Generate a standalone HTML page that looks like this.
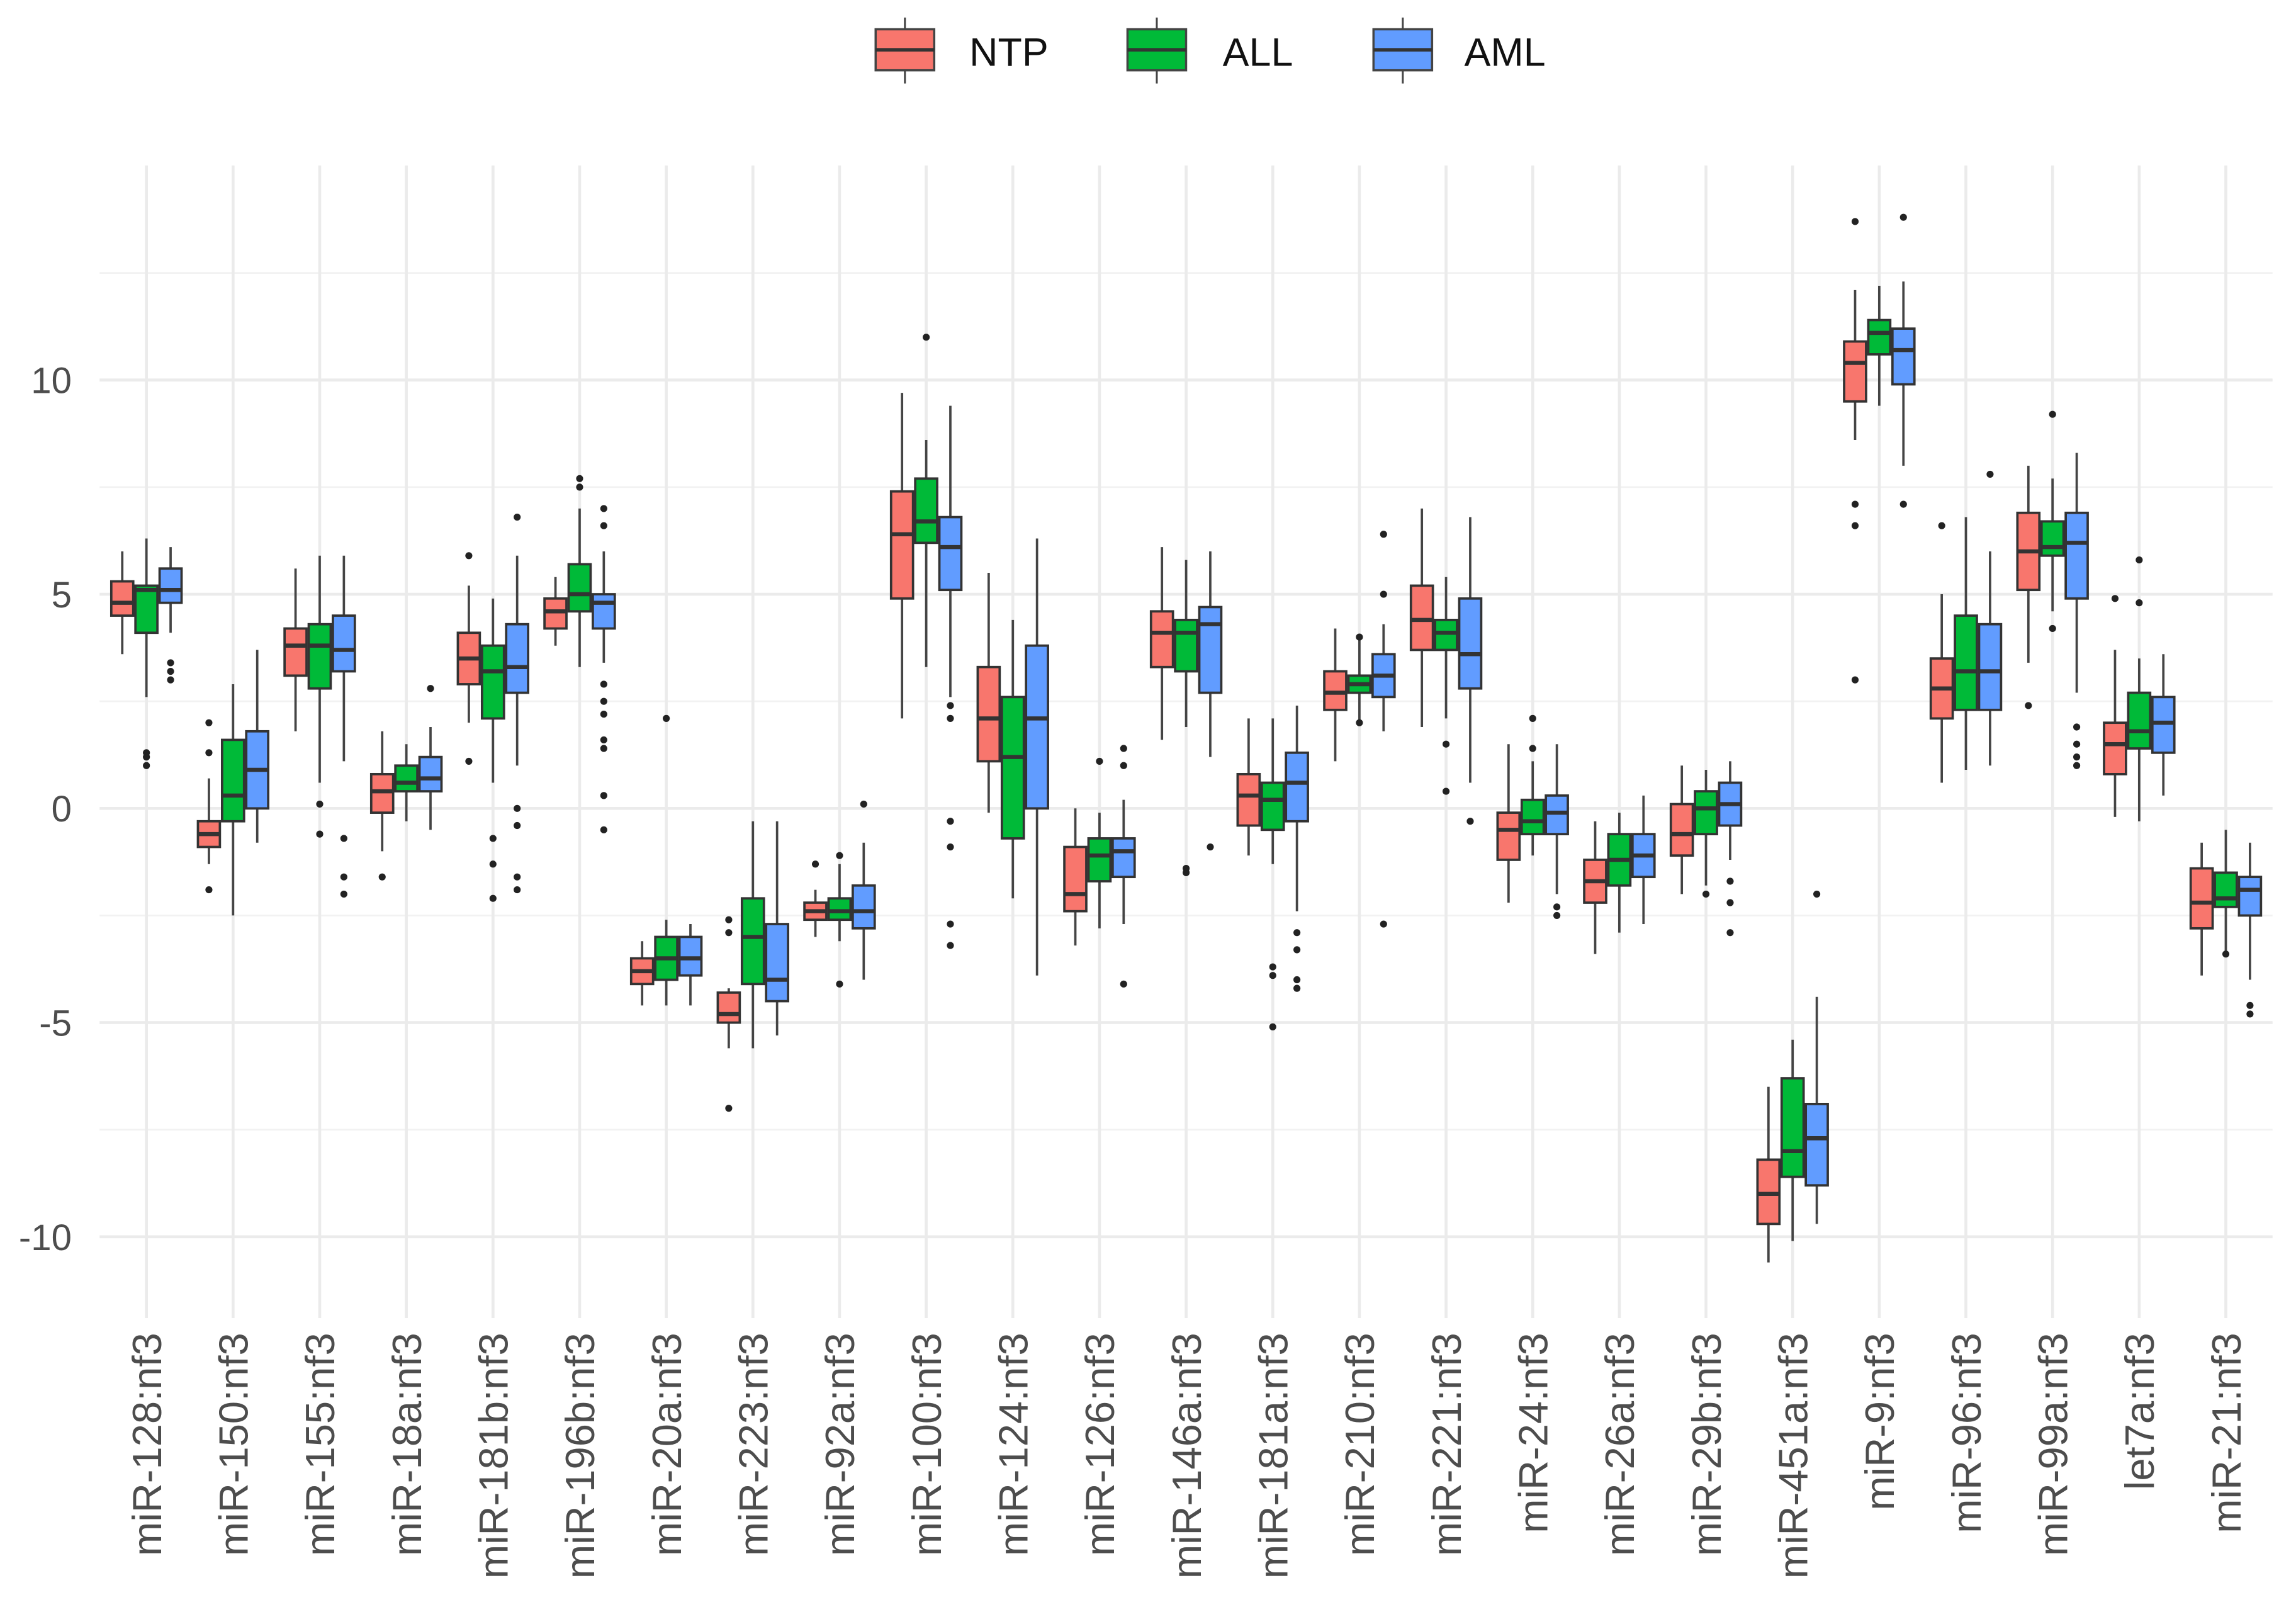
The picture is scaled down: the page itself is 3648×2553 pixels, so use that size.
<!DOCTYPE html>
<html><head><meta charset="utf-8"><style>
html,body{margin:0;padding:0;background:#fff;}
svg{display:block;font-family:"Liberation Sans",sans-serif;}
</style></head><body>
<svg id="chart" width="3648" height="2553" viewBox="0 0 1568 1097.3" preserveAspectRatio="none" xmlns="http://www.w3.org/2000/svg">
<g id="grid"></g>
<g id="boxes"></g>
<g id="axes"></g>
<g id="legend"></g>
</svg>
<script>
const categories = ["miR-128:nf3","miR-150:nf3","miR-155:nf3","miR-18a:nf3","miR-181b:nf3","miR-196b:nf3","miR-20a:nf3","miR-223:nf3","miR-92a:nf3","miR-100:nf3","miR-124:nf3","miR-126:nf3","miR-146a:nf3","miR-181a:nf3","miR-210:nf3","miR-221:nf3","miR-24:nf3","miR-26a:nf3","miR-29b:nf3","miR-451a:nf3","miR-9:nf3","miR-96:nf3","miR-99a:nf3","let7a:nf3","miR-21:nf3"];
const yTicks = [-10,-5,0,5,10];
const yTickLabels = ["-10","-5","0","5","10"];
const seriesNames = ["NTP","ALL","AML"];
// [lowWhisker, q1, median, q3, highWhisker]
const ntpStats = [[3.6,4.5,4.8,5.3,6.0],[-1.3,-0.9,-0.6,-0.3,0.7],[1.8,3.1,3.8,4.2,5.6],[-1.0,-0.1,0.4,0.8,1.8],[2.0,2.9,3.5,4.1,5.2],[3.8,4.2,4.6,4.9,5.4],[-4.6,-4.1,-3.8,-3.5,-3.1],[-5.6,-5.0,-4.8,-4.3,-4.2],[-3.0,-2.6,-2.4,-2.2,-1.9],[2.1,4.9,6.4,7.4,9.7],[-0.1,1.1,2.1,3.3,5.5],[-3.2,-2.4,-2.0,-0.9,0.0],[1.6,3.3,4.1,4.6,6.1],[-1.1,-0.4,0.3,0.8,2.1],[1.1,2.3,2.7,3.2,4.2],[1.9,3.7,4.4,5.2,7.0],[-2.2,-1.2,-0.5,-0.1,1.5],[-3.4,-2.2,-1.7,-1.2,-0.3],[-2.0,-1.1,-0.6,0.1,1.0],[-10.6,-9.7,-9.0,-8.2,-6.5],[8.6,9.5,10.4,10.9,12.1],[0.6,2.1,2.8,3.5,5.0],[3.4,5.1,6.0,6.9,8.0],[-0.2,0.8,1.5,2.0,3.7],[-3.9,-2.8,-2.2,-1.4,-0.8]];
const allStats = [[2.6,4.1,5.1,5.2,6.3],[-2.5,-0.3,0.3,1.6,2.9],[0.6,2.8,3.8,4.3,5.9],[-0.3,0.4,0.6,1.0,1.5],[0.6,2.1,3.2,3.8,4.9],[3.3,4.6,5.0,5.7,7.0],[-4.6,-4.0,-3.5,-3.0,-2.6],[-5.6,-4.1,-3.0,-2.1,-0.3],[-3.1,-2.6,-2.4,-2.1,-1.3],[3.3,6.2,6.7,7.7,8.6],[-2.1,-0.7,1.2,2.6,4.4],[-2.8,-1.7,-1.1,-0.7,-0.1],[1.9,3.2,4.1,4.4,5.8],[-1.3,-0.5,0.2,0.6,2.1],[2.0,2.7,2.9,3.1,4.0],[2.1,3.7,4.1,4.4,5.4],[-1.1,-0.6,-0.3,0.2,1.1],[-2.9,-1.8,-1.2,-0.6,-0.1],[-1.8,-0.6,0.0,0.4,0.9],[-10.1,-8.6,-8.0,-6.3,-5.4],[9.4,10.6,11.1,11.4,12.2],[0.9,2.3,3.2,4.5,6.8],[4.6,5.9,6.1,6.7,7.7],[-0.3,1.4,1.8,2.7,3.5],[-3.4,-2.3,-2.1,-1.5,-0.5]];
const amlStats = [[4.1,4.8,5.1,5.6,6.1],[-0.8,0.0,0.9,1.8,3.7],[1.1,3.2,3.7,4.5,5.9],[-0.5,0.4,0.7,1.2,1.9],[1.0,2.7,3.3,4.3,5.9],[3.4,4.2,4.8,5.0,6.0],[-4.6,-3.9,-3.5,-3.0,-2.7],[-5.3,-4.5,-4.0,-2.7,-0.3],[-4.0,-2.8,-2.4,-1.8,-0.8],[2.6,5.1,6.1,6.8,9.4],[-3.9,0.0,2.1,3.8,6.3],[-2.7,-1.6,-1.0,-0.7,0.2],[1.2,2.7,4.3,4.7,6.0],[-2.4,-0.3,0.6,1.3,2.4],[1.8,2.6,3.1,3.6,4.3],[0.6,2.8,3.6,4.9,6.8],[-2.0,-0.6,-0.1,0.3,1.5],[-2.7,-1.6,-1.1,-0.6,0.3],[-1.2,-0.4,0.1,0.6,1.1],[-9.7,-8.8,-7.7,-6.9,-4.4],[8.0,9.9,10.7,11.2,12.3],[1.0,2.3,3.2,4.3,6.0],[2.7,4.9,6.2,6.9,8.3],[0.3,1.3,2.0,2.6,3.6],[-4.0,-2.5,-1.9,-1.6,-0.8]];
const ntpOut = [[],[2.0,1.3,-1.9],[],[-1.6],[5.9,1.1],[],[],[-7.0,-2.6,-2.9],[-1.3],[],[],[],[],[],[],[],[],[],[],[],[13.7,7.1,6.6,3.0],[6.6],[2.4],[4.9],[]];
const allOut = [[1.0,1.2,1.3],[],[0.1,-0.6],[],[-0.7,-1.3,-2.1],[7.5,7.7],[2.1],[],[-1.1,-4.1],[11.0],[],[1.1],[-1.4,-1.5],[-3.7,-3.9,-5.1],[4.0,2.0],[1.5,0.4],[2.1,1.4],[],[-2.0],[],[],[],[9.2,4.2],[5.8,4.8],[-3.4]];
const amlOut = [[3.0,3.2,3.4],[],[-0.7,-1.6,-2.0],[2.8],[6.8,0.0,-0.4,-1.6,-1.9],[7.0,6.6,2.9,2.5,2.2,1.6,1.4,0.3,-0.5],[],[],[0.1],[2.4,2.1,-0.3,-0.9,-2.7,-3.2],[],[1.4,1.0,-4.1],[-0.9],[-2.9,-3.3,-4.0,-4.2],[6.4,5.0,-2.7],[-0.3],[-2.3,-2.5],[],[-1.7,-2.2,-2.9],[-2.0],[13.8,7.1],[7.8],[1.9,1.5,1.2,1.0],[],[-4.6,-4.8]];

const NS="http://www.w3.org/2000/svg";
const colors=["#F8766D","#00BA38","#619CFF"];
const statsAll=[ntpStats,allStats,amlStats];
const outAll=[ntpOut,allOut,amlOut];
const panel={l:68,r:1552,t:113,b:900};
function yS(v){return 552-29.25*v;}
function xS(i){return 100+59.17*i;}
const dodge=16.5, bw=15;
function el(tag,attrs,parent){const e=document.createElementNS(NS,tag);for(const k in attrs)e.setAttribute(k,attrs[k]);parent.appendChild(e);return e;}
const grid=document.getElementById('grid'),boxes=document.getElementById('boxes'),axes=document.getElementById('axes'),legend=document.getElementById('legend');
for(let k=0;k<yTicks.length;k++){
  const mv=yTicks[k]+2.5;
  const m=el('line',{x1:panel.l,x2:panel.r,y1:yS(mv),y2:yS(mv),stroke:'#f2f2f2','stroke-width':1.2},grid);
  
  
}
yTicks.forEach((v,k)=>{
  const g=el('line',{x1:panel.l,x2:panel.r,y1:yS(v),y2:yS(v),stroke:'#ebebeb','stroke-width':2},grid);
  
  
  const t=el('text',{x:49,y:yS(v)+9,'text-anchor':'end','font-size':25,fill:'#4d4d4d'},axes);
  t.textContent=yTickLabels[k];
  
  
});
categories.forEach((c,i)=>{
  const g=el('line',{x1:xS(i),x2:xS(i),y1:panel.t,y2:panel.b,stroke:'#ebebeb','stroke-width':2},grid);
  
  
  const t=el('text',{x:0,y:0,'text-anchor':'end','font-size':28,fill:'#4d4d4d',transform:`translate(${xS(i)+10},910) rotate(-90)`},axes);
  t.textContent=c;
  
  
  for(let s=0;s<3;s++){
    const st=statsAll[s][i];
    const cx=xS(i)+(s-1)*dodge;
    const g2=el('g',{},boxes);
    
    
    el('line',{x1:cx,x2:cx,y1:yS(st[0]),y2:yS(st[4]),stroke:'#444','stroke-width':1.6},g2);
    el('rect',{x:cx-bw/2,y:yS(st[3]),width:bw,height:yS(st[1])-yS(st[3]),fill:colors[s],stroke:'#333','stroke-width':1.6},g2);
    el('line',{x1:cx-bw/2,x2:cx+bw/2,y1:yS(st[2]),y2:yS(st[2]),stroke:'#333','stroke-width':2.8},g2);
    outAll[s][i].forEach(v=>{
      const p=el('circle',{cx:cx,cy:yS(v),r:2.4,fill:'#222'},g2);
      
      
    });
  }
});
const legX=[618,790,958], legT=[662,835,1000];
seriesNames.forEach((n,s)=>{
  const g=el('g',{},legend);
  
  
  el('line',{x1:legX[s],x2:legX[s],y1:12,y2:57,stroke:'#444','stroke-width':1.3},g);
  el('rect',{x:legX[s]-20,y:20,width:40,height:28,fill:colors[s],stroke:'#444','stroke-width':1.5},g);
  el('line',{x1:legX[s]-20,x2:legX[s]+20,y1:34,y2:34,stroke:'#333','stroke-width':2.4},g);
  const t=el('text',{x:legT[s],y:45,'font-size':27,fill:'#111'},g);
  t.textContent=n;
});
</script>
</body></html>
